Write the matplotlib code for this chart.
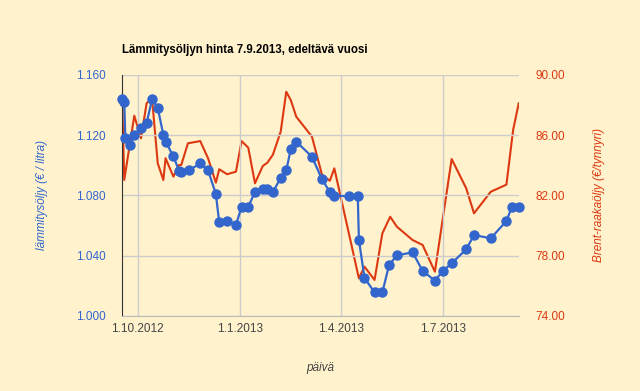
import matplotlib
matplotlib.use("Agg")
import matplotlib.pyplot as plt
import matplotlib.dates as mdates
import pandas as pd

plt.rcParams['font.family'] = ['Liberation Sans', 'DejaVu Sans']

title = "Lämmitysöljyn hinta 7.9.2013, edeltävä vuosi"
left_label = "lämmitysöljy (€ / litra)"
right_label = "Brent-raakaöljy (€/tynnyri)"
x_label = "päivä"

oil_dates = ["2012-09-17", "2012-09-19", "2012-09-20", "2012-09-24", "2012-09-28",
             "2012-10-04", "2012-10-09", "2012-10-14", "2012-10-19", "2012-10-24",
             "2012-10-26", "2012-11-02", "2012-11-07", "2012-11-09", "2012-11-16",
             "2012-11-26", "2012-12-03", "2012-12-10", "2012-12-13", "2012-12-20",
             "2012-12-28", "2013-01-02", "2013-01-08", "2013-01-14", "2013-01-21",
             "2013-01-25", "2013-01-30", "2013-02-06", "2013-02-11", "2013-02-15",
             "2013-02-20", "2013-03-06", "2013-03-15", "2013-03-22", "2013-03-26",
             "2013-04-08", "2013-04-16", "2013-04-17", "2013-04-22", "2013-05-01",
             "2013-05-08", "2013-05-14", "2013-05-21", "2013-06-04", "2013-06-13",
             "2013-06-24", "2013-07-01", "2013-07-09", "2013-07-22", "2013-07-29",
             "2013-08-13", "2013-08-27", "2013-09-01", "2013-09-07"]
oil_values = [1.1437, 1.1419, 1.1182, 1.1134, 1.1202,
              1.1249, 1.1280, 1.1439, 1.1381, 1.1200,
              1.1156, 1.1059, 1.0963, 1.0953, 1.0966,
              1.1012, 1.0966, 1.0809, 1.0621, 1.0632,
              1.0603, 1.0725, 1.0725, 1.0822, 1.0844,
              1.0844, 1.0822, 1.0915, 1.0966, 1.1105,
              1.1156, 1.1056, 1.0906, 1.0822, 1.0798,
              1.0794, 1.0794, 1.0506, 1.0252, 1.0157,
              1.0157, 1.0338, 1.0402, 1.0422, 1.0300,
              1.0234, 1.0298, 1.0349, 1.0442, 1.0537,
              1.0515, 1.0630, 1.0725, 1.0725]

brent_dates = ["2012-09-17", "2012-09-19", "2012-09-28", "2012-10-04", "2012-10-09",
               "2012-10-11", "2012-10-14", "2012-10-19", "2012-10-24", "2012-10-26",
               "2012-11-02", "2012-11-07", "2012-11-09", "2012-11-15", "2012-11-26",
               "2012-12-03", "2012-12-10", "2012-12-13", "2012-12-20", "2012-12-28",
               "2013-01-02", "2013-01-08", "2013-01-14", "2013-01-21", "2013-01-25",
               "2013-01-30", "2013-02-06", "2013-02-11", "2013-02-15", "2013-02-20",
               "2013-03-06", "2013-03-15", "2013-03-22", "2013-03-26", "2013-04-17",
               "2013-04-22", "2013-05-01", "2013-05-08", "2013-05-15", "2013-05-21",
               "2013-06-04", "2013-06-13", "2013-06-24", "2013-07-09", "2013-07-22",
               "2013-07-29", "2013-08-13", "2013-08-27", "2013-09-02", "2013-09-07"]
brent_values = [88.87, 83.02, 87.28, 85.78, 88.10,
                88.24, 88.32, 84.12, 83.02, 84.46,
                83.24, 84.01, 84.01, 85.45, 85.60,
                84.46, 82.84, 83.73, 83.40, 83.57,
                85.60, 85.16, 82.80, 83.95, 84.16,
                84.69, 86.22, 88.87, 88.32, 87.21,
                85.89, 83.35, 82.97, 83.79, 76.50,
                77.27, 76.39, 79.48, 80.58, 79.92,
                79.04, 78.71, 76.94, 84.41, 82.47,
                80.81, 82.24, 82.71, 86.33, 88.10]

left_ticks = [1.000, 1.040, 1.080, 1.120, 1.160]
right_ticks = [74.0, 78.0, 82.0, 86.0, 90.0]
x_tick_dates = ["2012-10-01", "2013-01-01", "2013-04-01", "2013-07-01"]
x_tick_labels = ["1.10.2012", "1.1.2013", "1.4.2013", "1.7.2013"]

bg = "#FFF2CC"
blue = "#3366CC"
red = "#DC3912"

od = pd.to_datetime(oil_dates)
bd = pd.to_datetime(brent_dates)
xt = pd.to_datetime(x_tick_dates)

fig = plt.figure(figsize=(6.4, 3.91), dpi=100, facecolor=bg)
ax = fig.add_axes([122/640, 1-316/391, (518.7-122)/640, (316-74.7)/391])
ax.set_facecolor(bg)
ax2 = ax.twinx()

ax.set_xlim(od[0], od[-1])
ax.set_ylim(1.0, 1.16)
ax2.set_ylim(74, 90)

ax.set_xticks(xt)
ax.set_xticklabels(x_tick_labels, color="#444444", fontsize=8.5)
ax.set_yticks(left_ticks)
ax.set_yticklabels([f"{v:.3f}" for v in left_ticks], color=blue, fontsize=8.5)
ax2.set_yticks(right_ticks)
ax2.set_yticklabels([f"{v:.2f}" for v in right_ticks], color=red, fontsize=8.5)

ax.grid(True, color="#CCCCCC", linewidth=1)
ax.set_axisbelow(True)
ax.tick_params(length=0, pad=12)
ax.tick_params(axis='x', pad=5)
ax2.tick_params(length=0, pad=12)

for s in ["top", "right"]:
    ax.spines[s].set_visible(False)
for s in ["top", "right", "left", "bottom"]:
    ax2.spines[s].set_visible(False)
ax.spines["left"].set_color("#333333")
ax.spines["bottom"].set_color("#BBBBBB")

ax2.plot(bd, brent_values, color=red, linewidth=1.5, zorder=2)
ax.plot(od, oil_values, color=blue, linewidth=1.6, marker="o", markersize=6.5,
        zorder=3, clip_on=False)
ax.set_zorder(ax2.get_zorder() + 1)
ax.patch.set_visible(False)
ax2.patch.set_visible(True)
ax2.patch.set_facecolor(bg)

fig.text(122/640, 1-50/391, title, fontsize=8.3, fontweight="bold", color="#000000",
         va="center", ha="left")
fig.text(42/640, 1-195/391, left_label, rotation=90, fontsize=8.5, style="italic",
         color=blue, va="center", ha="center")
fig.text(599/640, 1-195/391, right_label, rotation=90, fontsize=8.5, style="italic",
         color=red, va="center", ha="center")
fig.text(320/640, 1-368/391, x_label, fontsize=8.5, style="italic", color="#444444",
         va="center", ha="center")

fig.savefig("out.png", dpi=100, facecolor=bg)
